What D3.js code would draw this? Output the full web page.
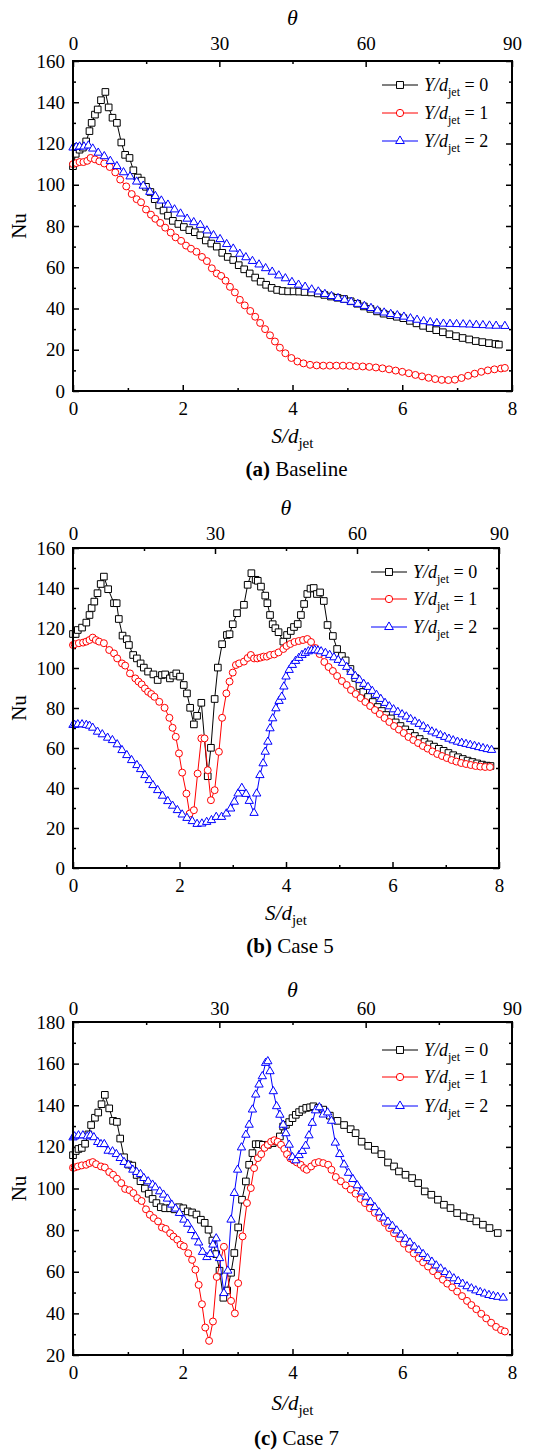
<!DOCTYPE html>
<html>
<head>
<meta charset="utf-8">
<script src="https://cdn.jsdelivr.net/npm/d3@7"></script>
<style>
  body { margin: 0; background: #fff; }
  svg text { font-family: "Liberation Serif", "Times New Roman", serif; fill: #000; }
</style>
</head>
<body>
<svg id="fig" width="536" height="1451"></svg>
<script>
// ---- Nu profiles along the surface: [S/d_jet, Nu] ----
// (a) Baseline
const baselineY0 = [[0,109],[0.05,115],[0.12,117],[0.18,118],[0.24,121],[0.3,126],[0.34,130],[0.4,134],[0.45,136.5],[0.51,141],[0.59,145],[0.65,137.5],[0.72,132.5],[0.8,130],[0.88,120.5],[0.95,114.5],[1.03,113],[1.1,107],[1.18,103.5],[1.25,102],[1.33,99],[1.41,96.5],[1.49,93],[1.57,90],[1.65,87.5],[1.73,85],[1.82,82.5],[1.92,81],[2.02,79.5],[2.12,78],[2.22,77],[2.32,75.5],[2.42,73],[2.52,71.5],[2.62,70],[2.72,67],[2.82,65],[2.92,63.5],[3.02,61],[3.12,59],[3.22,57],[3.32,55],[3.42,53],[3.52,51.5],[3.62,50],[3.72,49],[3.82,48.5],[3.92,48.3],[4.02,48.3],[4.12,48.2],[4.22,48],[4.34,47.8],[4.46,47.3],[4.58,46.6],[4.7,45.8],[4.82,45.2],[4.94,44.6],[5.06,43.5],[5.18,42.3],[5.3,41],[5.42,39.8],[5.54,38.6],[5.66,37.5],[5.78,36.8],[5.9,36],[6.02,35.3],[6.14,34],[6.26,32.8],[6.38,31.6],[6.5,30.5],[6.62,29.5],[6.74,28.5],[6.86,27.5],[6.98,26.6],[7.1,25.7],[7.22,25],[7.34,24.2],[7.46,23.7],[7.58,23.2],[7.7,22.8],[7.76,22.5]];
const baselineY1 = [[0,110],[0.06,110.5],[0.12,111],[0.19,111],[0.26,111.6],[0.32,113],[0.4,112.3],[0.48,111.4],[0.57,110.3],[0.67,108.6],[0.77,106],[0.86,102.5],[0.97,99.2],[1.07,95.5],[1.16,93],[1.24,91.5],[1.33,88],[1.42,85.5],[1.5,83.5],[1.59,81.5],[1.68,79.2],[1.78,76.8],[1.87,74.5],[1.97,72.8],[2.06,70.5],[2.15,69],[2.25,67.5],[2.35,65],[2.44,63],[2.53,59.5],[2.62,57],[2.7,55.8],[2.78,53.5],[2.86,50.5],[2.95,47.8],[3.04,44.2],[3.13,41.5],[3.23,38.8],[3.32,36],[3.41,33],[3.5,30],[3.59,27],[3.68,24],[3.77,21],[3.87,18.3],[3.98,16],[4.09,14.3],[4.2,13.4],[4.32,12.7],[4.44,12.4],[4.56,12.3],[4.68,12.3],[4.8,12.3],[4.92,12.3],[5.04,12.2],[5.16,12],[5.28,11.9],[5.4,11.7],[5.52,11.4],[5.64,11],[5.76,10.5],[5.88,9.9],[6,9.3],[6.12,8.6],[6.24,7.8],[6.36,7.1],[6.48,6.4],[6.6,5.8],[6.72,5.4],[6.84,5.3],[6.96,5.5],[7.08,6.3],[7.2,7.4],[7.32,8.4],[7.44,9.3],[7.56,10],[7.68,10.5],[7.8,10.9],[7.87,11.2]];
const baselineY2 = [[0,118],[0.06,118.3],[0.12,118.5],[0.2,118.5],[0.28,119],[0.36,117.5],[0.46,115.5],[0.57,113.8],[0.68,111.5],[0.8,109],[0.92,106],[1.04,104],[1.16,101.5],[1.28,99.5],[1.4,96.5],[1.5,94.5],[1.61,92.3],[1.73,90.3],[1.85,88],[1.96,86],[2.08,83.5],[2.2,81.8],[2.32,80.5],[2.44,77.8],[2.56,75.5],[2.68,73.6],[2.8,71.2],[2.92,69],[3.04,66.5],[3.15,64.8],[3.27,63],[3.39,61.3],[3.51,59.5],[3.63,57.8],[3.75,56],[3.87,54.6],[3.99,52.8],[4.11,51.5],[4.23,50.5],[4.35,49.2],[4.47,48.2],[4.59,47],[4.71,46],[4.83,45],[4.95,44.2],[5.07,43.2],[5.19,42.2],[5.31,41.2],[5.43,40.2],[5.55,39],[5.67,38],[5.79,37.3],[5.91,36.7],[6.03,36],[6.15,35.2],[6.27,34.5],[6.39,33.8],[6.51,33.3],[6.63,32.9],[6.75,32.6],[6.87,32.5],[6.99,32.4],[7.11,32.3],[7.23,32.2],[7.35,32],[7.47,31.9],[7.59,31.7],[7.71,31.6],[7.87,31.5]];

// (b) Case 5
const case5Y0 = [[0,117],[0.05,117],[0.09,119],[0.17,120.2],[0.25,122.7],[0.31,126.5],[0.35,130],[0.4,133.2],[0.46,137.4],[0.52,142],[0.58,145.7],[0.66,139.4],[0.77,132.4],[0.82,132.4],[0.86,124.5],[0.93,116.2],[1.01,114.4],[1.05,111.5],[1.13,106.5],[1.2,104.8],[1.27,102.3],[1.33,100.2],[1.41,98.2],[1.51,96.8],[1.59,94],[1.67,96.5],[1.73,96.8],[1.82,94.8],[1.88,96.2],[1.94,97.3],[2.01,95.7],[2.08,91.5],[2.14,87.3],[2.2,80.1],[2.27,71.8],[2.33,76.1],[2.41,82.6],[2.53,45.9],[2.59,60.1],[2.66,84.5],[2.72,100.2],[2.8,111.9],[2.89,116.5],[2.94,116.9],[3,121.9],[3.08,127.4],[3.21,131.6],[3.28,141.6],[3.35,147.4],[3.43,144.1],[3.47,143.6],[3.53,140.7],[3.61,136.2],[3.65,132.4],[3.7,126.5],[3.75,121.9],[3.8,119.9],[3.86,117.9],[3.95,113.2],[4.02,116.5],[4.09,118.5],[4.15,120.5],[4.22,122],[4.28,126.5],[4.34,132],[4.4,137],[4.46,139.7],[4.52,140],[4.58,137],[4.64,137.8],[4.71,133.5],[4.78,121.5],[4.88,116],[4.96,109.5],[5.05,106],[5.12,103.8],[5.21,99.5],[5.3,95],[5.38,91],[5.45,88],[5.54,85.5],[5.63,83],[5.72,80.5],[5.8,78.5],[5.88,76.5],[5.97,74.8],[6.06,72.8],[6.15,71],[6.24,69.3],[6.33,67.6],[6.42,66],[6.51,64.5],[6.6,63],[6.69,61.8],[6.78,60.7],[6.87,59.6],[6.96,58.6],[7.05,57.5],[7.14,56.4],[7.23,55.4],[7.32,54.5],[7.41,53.7],[7.5,53],[7.59,52.3],[7.68,51.7],[7.77,51.2],[7.84,51]];
const case5Y1 = [[0,111.5],[0.03,111.9],[0.11,112.4],[0.19,112.7],[0.25,113.2],[0.31,114],[0.37,115.2],[0.43,114],[0.49,113.2],[0.58,112.4],[0.68,109],[0.77,107.3],[0.83,104.8],[0.92,102.3],[0.98,101.2],[1.07,97.3],[1.17,94.8],[1.23,93.2],[1.29,91.8],[1.35,89.8],[1.41,88.1],[1.47,87],[1.53,85.6],[1.62,83.1],[1.72,80.1],[1.81,75.1],[1.87,70.1],[1.93,65.6],[1.99,57.3],[2.05,47.7],[2.13,37.2],[2.19,27.2],[2.27,28.9],[2.34,47.2],[2.41,64.8],[2.47,64.8],[2.53,48.9],[2.59,33.9],[2.66,38.9],[2.74,58.1],[2.8,75.1],[2.88,87.3],[2.94,93.2],[3,97.7],[3.06,101.5],[3.12,102.3],[3.21,103.2],[3.28,105],[3.34,106.5],[3.4,104.8],[3.46,104.8],[3.52,105.2],[3.58,105.7],[3.64,105.7],[3.7,106.5],[3.78,106.8],[3.86,107.8],[3.95,109.5],[4.01,111],[4.08,112],[4.16,113],[4.24,113.5],[4.32,114],[4.4,114.5],[4.47,113],[4.55,110],[4.63,107],[4.72,103],[4.8,100.5],[4.88,98.5],[4.96,96],[5.05,93.5],[5.14,91.5],[5.22,89],[5.31,87],[5.4,85],[5.49,83],[5.58,81],[5.67,79],[5.76,77],[5.85,75],[5.94,73],[6.03,71],[6.12,69.2],[6.21,67.5],[6.3,65.5],[6.39,64],[6.48,62.5],[6.57,61],[6.66,59.7],[6.75,58.3],[6.84,57],[6.93,56],[7.02,55],[7.11,54],[7.2,53.2],[7.29,52.5],[7.38,52],[7.47,51.5],[7.56,51],[7.65,50.7],[7.74,50.5],[7.83,50.5]];
const case5Y2 = [[0,71.5],[0.03,71.5],[0.09,71.8],[0.17,71.8],[0.25,71.5],[0.31,71.1],[0.37,70.1],[0.46,68.1],[0.55,66.8],[0.65,65.1],[0.74,63.9],[0.83,61.8],[0.92,58.9],[1.01,56.4],[1.1,53.9],[1.2,51.4],[1.27,49.4],[1.35,46.4],[1.43,43.9],[1.5,41.4],[1.59,38.9],[1.68,36.1],[1.78,33.4],[1.87,31.1],[1.96,28.9],[2.05,26.7],[2.14,25],[2.24,23.4],[2.33,22],[2.42,22.2],[2.51,23],[2.6,23.9],[2.69,25.5],[2.79,25.5],[2.88,27.2],[2.96,29.7],[3.03,33.1],[3.1,37.2],[3.17,40],[3.25,37],[3.31,33.5],[3.4,27.5],[3.45,37.2],[3.51,46.4],[3.57,52.3],[3.61,58.1],[3.66,63.1],[3.7,69.8],[3.75,74.8],[3.81,79.8],[3.87,83.5],[3.92,85.6],[3.96,90.7],[4,95.7],[4.06,99],[4.12,101.5],[4.18,103.5],[4.24,105],[4.3,106.5],[4.36,107.5],[4.42,108.3],[4.48,108.8],[4.54,109],[4.6,108.7],[4.66,108.3],[4.74,107.5],[4.82,106.5],[4.9,105.3],[4.98,104],[5.06,102.5],[5.14,100.5],[5.22,98],[5.3,96],[5.38,94],[5.46,92],[5.54,90.5],[5.62,88.5],[5.7,86.5],[5.78,84.5],[5.86,82.5],[5.94,80.8],[6.02,79.3],[6.1,78],[6.18,76.8],[6.26,75.7],[6.34,74.4],[6.42,73.2],[6.5,72],[6.58,70.8],[6.66,69.5],[6.74,68.2],[6.82,67.3],[6.9,66.4],[6.98,65.5],[7.06,64.6],[7.14,63.8],[7.22,63.1],[7.3,62.5],[7.38,62],[7.46,61.5],[7.54,61],[7.62,60.4],[7.7,59.9],[7.78,59.4],[7.86,59]];

// (c) Case 7
const case7Y0 = [[0,116],[0.05,118],[0.1,119],[0.16,119.5],[0.22,121.5],[0.28,126],[0.33,130.5],[0.4,134],[0.46,136.5],[0.52,140.5],[0.58,145],[0.66,138.5],[0.73,132.5],[0.8,132],[0.86,124],[0.93,115],[1.01,111.5],[1.08,111],[1.16,106.5],[1.23,103.5],[1.31,100],[1.38,97.5],[1.45,95],[1.52,93],[1.6,91],[1.68,90.5],[1.77,90.5],[1.85,90],[1.93,91],[2.01,90.5],[2.09,89],[2.17,88.5],[2.25,87.5],[2.33,85],[2.4,83.5],[2.47,80.2],[2.54,75],[2.61,68.5],[2.67,60.5],[2.74,47.5],[2.81,51],[2.88,59.5],[2.94,69],[3.01,81.3],[3.08,94.6],[3.15,103.4],[3.21,111.4],[3.27,117],[3.33,121.3],[3.39,121.3],[3.46,121],[3.55,121],[3.64,121.8],[3.71,122.6],[3.77,125],[3.83,129.8],[3.88,130.6],[3.94,131.9],[4,133.8],[4.06,135.4],[4.12,136.7],[4.18,137.9],[4.25,138.7],[4.32,139],[4.38,139.5],[4.47,138.7],[4.56,137.9],[4.68,135],[4.82,132.5],[4.94,130.5],[5.06,128.5],[5.15,126.6],[5.26,122.5],[5.38,120.5],[5.5,118.6],[5.62,116.5],[5.74,112.5],[5.85,110.6],[5.94,108.2],[6.06,106.6],[6.18,105],[6.29,102.6],[6.41,98.6],[6.53,97],[6.65,94.6],[6.76,92.2],[6.88,90.6],[7,88.2],[7.12,86.6],[7.24,85.8],[7.35,84.2],[7.47,82.6],[7.59,81],[7.74,78.6]];
const case7Y1 = [[0,110],[0.03,110.1],[0.09,110.6],[0.16,111.1],[0.24,111.4],[0.3,112.2],[0.36,112.7],[0.42,111.7],[0.51,110.6],[0.58,110.1],[0.66,107.9],[0.73,106.6],[0.8,104.7],[0.88,102.6],[0.95,99.8],[1.03,99.2],[1.1,97.8],[1.17,95.4],[1.25,94],[1.33,90],[1.4,87.4],[1.47,85.8],[1.55,84.2],[1.62,81.3],[1.69,80.6],[1.77,78.5],[1.83,76.9],[1.9,75.4],[1.96,73],[2.02,72.2],[2.1,68.9],[2.17,65.7],[2.23,61],[2.29,53.7],[2.35,44.4],[2.41,33.2],[2.48,26.8],[2.55,36.1],[2.62,57.5],[2.75,72],[2.88,46],[2.95,40],[3.01,54.5],[3.09,77],[3.17,93],[3.24,100.2],[3.3,109.8],[3.37,114.6],[3.43,116.5],[3.49,119.5],[3.55,121],[3.61,122.5],[3.67,123.2],[3.73,122.5],[3.79,121],[3.85,119],[3.9,116.5],[3.96,114.5],[4.02,113.5],[4.08,112.5],[4.15,111.4],[4.21,109.8],[4.26,109],[4.34,110.6],[4.41,112.2],[4.48,112.7],[4.56,112.2],[4.65,111.4],[4.71,109],[4.79,105.5],[4.88,103.5],[4.97,101.5],[5.06,99.5],[5.15,97.5],[5.24,95],[5.32,93],[5.41,90.5],[5.5,88.3],[5.59,85.8],[5.68,83.5],[5.76,81],[5.85,78.5],[5.94,76],[6.03,73.5],[6.12,71],[6.21,68.8],[6.3,66.5],[6.38,64.5],[6.47,62.5],[6.56,60.3],[6.65,58.2],[6.74,56.2],[6.82,54.3],[6.91,52.5],[7,50.5],[7.09,48.3],[7.18,46],[7.26,44],[7.35,42],[7.44,39.8],[7.53,37.6],[7.62,35.5],[7.71,33.5],[7.8,32],[7.87,31.3]];
const case7Y2 = [[0,124.5],[0.03,125],[0.1,125.5],[0.18,125.5],[0.26,125],[0.32,125.5],[0.38,124.6],[0.45,122.3],[0.51,121.3],[0.57,121.3],[0.64,118.1],[0.72,117.8],[0.79,116.5],[0.86,114.6],[0.93,112.7],[1.01,111.4],[1.09,109],[1.16,107.9],[1.23,106.9],[1.29,105],[1.37,103.4],[1.45,101.8],[1.5,100.5],[1.58,98.6],[1.65,97],[1.72,95.1],[1.8,92.2],[1.87,90.3],[1.94,88.2],[2.02,85],[2.09,83],[2.16,80],[2.23,77],[2.29,74],[2.36,69.5],[2.44,67],[2.5,68.5],[2.55,73],[2.61,76],[2.67,66.5],[2.75,49.7],[2.82,60.5],[2.88,85],[2.94,97.8],[3,109],[3.07,119.7],[3.15,125.8],[3.21,130.6],[3.27,137.9],[3.33,145.1],[3.39,149.9],[3.45,153.9],[3.51,160.3],[3.55,161.1],[3.59,156.3],[3.65,146.7],[3.71,139.5],[3.77,135.4],[3.83,130.6],[3.88,126.5],[3.94,121],[4,115],[4.06,113.5],[4.12,116],[4.18,118],[4.24,120.5],[4.3,125.5],[4.36,131.5],[4.42,137.5],[4.49,139],[4.56,135.5],[4.64,136.5],[4.71,132.5],[4.78,122],[4.86,116.5],[4.94,111.5],[5.02,107.5],[5.1,104.5],[5.18,101.5],[5.26,98.5],[5.34,96],[5.42,93.5],[5.5,91],[5.58,88.5],[5.66,86],[5.74,84],[5.82,82],[5.9,79.8],[5.98,77.8],[6.06,75.8],[6.14,74],[6.22,72],[6.3,70.3],[6.38,68.5],[6.46,66.5],[6.54,64.8],[6.62,63],[6.7,61.5],[6.78,59.8],[6.86,58.3],[6.94,56.8],[7.02,55.5],[7.1,54.2],[7.18,53],[7.26,52],[7.34,51],[7.42,50.2],[7.5,49.5],[7.58,48.8],[7.66,48.3],[7.74,47.9],[7.84,47.5]];

// ---- axes and labels ----
const spanwise = [0, 1, 2];             // Y/d_jet of each profile
const sTicks = [0, 2, 4, 6, 8];
const sMinorTicks = [1, 3, 5, 7];
const thetaTicks = [0, 30, 60, 90];
const thetaMinorTicks = [15, 45, 75];
const nuTicks160 = [0, 20, 40, 60, 80, 100, 120, 140, 160];
const nuTicks180 = [20, 40, 60, 80, 100, 120, 140, 160, 180];
const captions = [["(a)", " Baseline"], ["(b)", " Case 5"], ["(c)", " Case 7"]];

const panels = [
  { series: [baselineY0, baselineY1, baselineY2], yDomain: [0, 160], yTicks: nuTicks160,
    box: { l: 73, r: 512, t: 61, b: 391 }, legend: { x: 382, y: [85, 113, 141] },
    thetaY: 25, topPad: 11, xLabelY: 443, captionY: 476, caption: captions[0] },
  { series: [case5Y0, case5Y1, case5Y2], yDomain: [0, 160], yTicks: nuTicks160,
    box: { l: 73, r: 499, t: 548, b: 868 }, legend: { x: 371, y: [572, 599, 627] },
    thetaY: 515, topPad: 8, xLabelY: 920, captionY: 953, caption: captions[1] },
  { series: [case7Y0, case7Y1, case7Y2], yDomain: [20, 180], yTicks: nuTicks180,
    box: { l: 73, r: 512, t: 1022, b: 1355 }, legend: { x: 382, y: [1050, 1077, 1106] },
    thetaY: 997, topPad: 7, xLabelY: 1410, captionY: 1445, caption: captions[2] }
];

const colors = ["#000000", "#ff0000", "#0000ff"];
const symbols = [d3.symbolSquare, d3.symbolCircle, d3.symbolTriangle];
const symbolSizes = [44, 38, 30];

const svg = d3.select("#fig");

function styleAxis(g) {
  g.select(".domain").remove();
  g.selectAll(".tick line").attr("stroke", "#000").attr("stroke-width", 1.5);
  g.selectAll(".tick text").style("font-size", "19px").attr("fill", "#000");
}

function legendLabel(sel, value) {
  sel.append("tspan").style("font-style", "italic").text("Y/d");
  sel.append("tspan").attr("dy", 5).style("font-size", "12px").text("jet");
  sel.append("tspan").attr("dy", -5).text(" = " + value);
}

panels.forEach(p => {
  const { l, r, t, b } = p.box;
  const x = d3.scaleLinear().domain([0, 8]).range([l, r]);
  const xTheta = d3.scaleLinear().domain([0, 90]).range([l, r]);
  const y = d3.scaleLinear().domain(p.yDomain).range([b, t]);
  const yMinor = d3.range(p.yDomain[0] + 10, p.yDomain[1], 20);

  const g = svg.append("g");

  // bottom S/d_jet axis
  g.append("g").attr("transform", `translate(0,${b})`)
    .call(d3.axisBottom(x).tickValues(sTicks).tickSize(-6).tickPadding(11).tickFormat(d3.format("d")))
    .call(styleAxis);
  g.append("g").attr("transform", `translate(0,${b})`)
    .call(d3.axisBottom(x).tickValues(sMinorTicks).tickSize(-3).tickFormat(""))
    .call(styleAxis);

  // top theta axis
  g.append("g").attr("transform", `translate(0,${t})`)
    .call(d3.axisTop(xTheta).tickValues(thetaTicks).tickSize(-6).tickPadding(p.topPad))
    .call(styleAxis);
  g.append("g").attr("transform", `translate(0,${t})`)
    .call(d3.axisTop(xTheta).tickValues(thetaMinorTicks).tickSize(-3).tickFormat(""))
    .call(styleAxis);

  // left Nu axis
  g.append("g").attr("transform", `translate(${l},0)`)
    .call(d3.axisLeft(y).tickValues(p.yTicks).tickSize(-6).tickPadding(8))
    .call(styleAxis);
  g.append("g").attr("transform", `translate(${l},0)`)
    .call(d3.axisLeft(y).tickValues(yMinor).tickSize(-3).tickFormat(""))
    .call(styleAxis);

  // right axis, ticks only
  g.append("g").attr("transform", `translate(${r},0)`)
    .call(d3.axisRight(y).tickValues(p.yTicks).tickSize(-6).tickFormat(""))
    .call(styleAxis);
  g.append("g").attr("transform", `translate(${r},0)`)
    .call(d3.axisRight(y).tickValues(yMinor).tickSize(-3).tickFormat(""))
    .call(styleAxis);

  // profiles: thin line under open markers
  const line = d3.line().x(d => x(d[0])).y(d => y(d[1]));
  p.series.forEach((data, i) => {
    const sg = g.append("g");
    sg.append("path").datum(data)
      .attr("d", line).attr("fill", "none")
      .attr("stroke", colors[i]).attr("stroke-width", 1);
    sg.selectAll("path.mk").data(data).join("path")
      .attr("class", "mk")
      .attr("d", d3.symbol().type(symbols[i]).size(symbolSizes[i]))
      .attr("transform", d => `translate(${x(d[0])},${y(d[1])})`)
      .attr("fill", "#fff").attr("stroke", colors[i]).attr("stroke-width", 1);
  });

  // frame
  g.append("rect").attr("x", l).attr("y", t).attr("width", r - l).attr("height", b - t)
    .attr("fill", "none").attr("stroke", "#000").attr("stroke-width", 2);

  // legend
  spanwise.forEach((v, i) => {
    const ly = p.legend.y[i];
    const lx = p.legend.x;
    g.append("line").attr("x1", lx).attr("x2", lx + 36).attr("y1", ly).attr("y2", ly)
      .attr("stroke", colors[i]).attr("stroke-width", 1);
    g.append("path").attr("d", d3.symbol().type(symbols[i]).size(symbolSizes[i] * 1.1))
      .attr("transform", `translate(${lx + 18},${ly})`)
      .attr("fill", "#fff").attr("stroke", colors[i]).attr("stroke-width", 1);
    g.append("text").attr("x", lx + 42).attr("y", ly + 6)
      .style("font-size", "18px").call(legendLabel, v);
  });

  // axis titles
  const cx = (l + r) / 2;
  g.append("text").attr("x", cx).attr("y", p.thetaY).attr("text-anchor", "middle")
    .style("font-size", "22px").style("font-style", "italic").text("θ");

  const xl = g.append("text").attr("x", cx).attr("y", p.xLabelY).attr("text-anchor", "middle")
    .style("font-size", "21px");
  xl.append("tspan").style("font-style", "italic").text("S/d");
  xl.append("tspan").attr("dy", 5).style("font-size", "15px").text("jet");

  g.append("text").attr("transform", `translate(26,${(t + b) / 2}) rotate(-90)`)
    .attr("text-anchor", "middle").style("font-size", "21px").text("Nu");

  const cap = g.append("text").attr("x", cx + 4).attr("y", p.captionY).attr("text-anchor", "middle")
    .style("font-size", "21px");
  cap.append("tspan").style("font-weight", "bold").text(p.caption[0]);
  cap.append("tspan").text(p.caption[1]);
});
</script>
</body>
</html>
